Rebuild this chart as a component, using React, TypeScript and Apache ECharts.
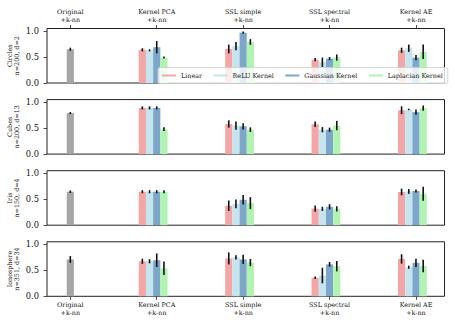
import React, { useEffect, useRef } from "react";
import * as echarts from "echarts";

const methods = ["Original\n+k-nn", "Kernel PCA\n+k-nn", "SSL simple\n+k-nn", "SSL spectral\n+k-nn", "Kernel AE\n+k-nn"];
const kernels = ["Linear", "ReLU Kernel", "Gaussian Kernel", "Laplacian Kernel"];
const kernelColors = ["#F4A6A6", "#C5E4EE", "#7DA7CA", "#B1F3B1"];
const originalColor = "#A6A6A6";
const datasets = ["Circles\nn=200, d=2", "Cubes\nn=200, d=13", "Iris\nn=150, d=4", "Ionosphere\nn=351, d=34"];
const yTicks = [0, 0.5, 1.0];

// Original +k-nn per dataset
const originalMean = [0.65, 0.79, 0.645, 0.71];
const originalErr = [0.03, 0.02, 0.025, 0.065];

// per dataset: [kernel][method: Kernel PCA, SSL simple, SSL spectral, Kernel AE]
const circlesMean = [
  [0.64, 0.655, 0.45, 0.63],
  [0.63, 0.71, 0.40, 0.67],
  [0.69, 0.97, 0.47, 0.49],
  [0.49, 0.79, 0.49, 0.60],
];
const circlesErr = [
  [0.03, 0.085, 0.03, 0.05],
  [0.02, 0.08, 0.09, 0.07],
  [0.12, 0.02, 0.03, 0.05],
  [0.02, 0.055, 0.06, 0.14],
];
const cubesMean = [
  [0.89, 0.58, 0.575, 0.845],
  [0.89, 0.55, 0.47, 0.86],
  [0.89, 0.535, 0.47, 0.81],
  [0.48, 0.47, 0.55, 0.885],
];
const cubesErr = [
  [0.03, 0.07, 0.055, 0.075],
  [0.03, 0.08, 0.05, 0.015],
  [0.03, 0.06, 0.04, 0.05],
  [0.035, 0.045, 0.09, 0.05],
];
const irisMean = [
  [0.645, 0.375, 0.32, 0.64],
  [0.645, 0.41, 0.315, 0.65],
  [0.645, 0.49, 0.355, 0.66],
  [0.645, 0.425, 0.315, 0.605],
];
const irisErr = [
  [0.03, 0.1, 0.06, 0.065],
  [0.03, 0.085, 0.04, 0.045],
  [0.03, 0.09, 0.05, 0.03],
  [0.03, 0.115, 0.05, 0.135],
];
const ionoMean = [
  [0.675, 0.73, 0.357, 0.72],
  [0.675, 0.75, 0.40, 0.56],
  [0.695, 0.71, 0.615, 0.645],
  [0.54, 0.65, 0.58, 0.585],
];
const ionoErr = [
  [0.05, 0.115, 0.025, 0.09],
  [0.04, 0.04, 0.15, 0.03],
  [0.13, 0.09, 0.045, 0.08],
  [0.13, 0.07, 0.1, 0.12],
];

const allMeans = [circlesMean, cubesMean, irisMean, ionoMean];
const allErrs = [circlesErr, cubesErr, irisErr, ionoErr];

const FONT = "DejaVu Serif";
const BAR_W = 1 / 12;
const TEXT = "#111";

export default function App() {
  const ref = useRef<HTMLDivElement>(null);
  useEffect(() => {
    if (!ref.current) return;
    const chart = echarts.init(ref.current, undefined, { renderer: "svg" });

    const makeRender = (color: string) => (params: any, api: any) => {
      const x = api.value(0);
      const y = api.value(1);
      const e = api.value(2);
      const p0 = api.coord([x - BAR_W / 2, y]);
      const p1 = api.coord([x + BAR_W / 2, 0]);
      const t = api.coord([x, y + e]);
      const b = api.coord([x, y - e]);
      return {
        type: "group",
        children: [
          { type: "rect", shape: { x: p0[0], y: p0[1], width: p1[0] - p0[0], height: p1[1] - p0[1] }, style: { fill: color } },
          { type: "line", shape: { x1: t[0], y1: t[1], x2: b[0], y2: b[1] }, style: { stroke: "#111", lineWidth: 1.6 } },
        ],
      };
    };

    const grids: any[] = [];
    const xAxes: any[] = [];
    const yAxes: any[] = [];
    const series: any[] = [];
    const tickVals = methods.map((_, i) => i);

    datasets.forEach((name, i) => {
      const showX = i === 0 || i === datasets.length - 1;
      grids.push({
        left: 47, right: 10.5, top: 28.5 + i * 71.1, height: 54.5,
        containLabel: false, outerBoundsMode: "none",
        show: true, borderColor: "#222", borderWidth: 1, backgroundColor: "transparent",
      });
      xAxes.push({
        type: "value", gridIndex: i, min: -0.27, max: 4.33,
        position: i === 0 ? "top" : "bottom",
        splitLine: { show: false },
        axisLine: { show: false, onZero: false },
        axisTick: { show: showX, customValues: tickVals, length: 3.5, lineStyle: { color: "#222", width: 0.8 } },
        axisLabel: {
          show: showX, customValues: tickVals,
          formatter: (v: number) => methods[Math.round(v)],
          fontSize: 6.4, fontFamily: FONT, color: TEXT, lineHeight: 7.5, margin: 5,
        },
      });
      yAxes.push({
        type: "value", gridIndex: i, min: 0, max: 1.05,
        position: "left",
        name, nameLocation: "middle", nameGap: 27, nameRotate: 90, nameMoveOverlap: false,
        nameTextStyle: { fontSize: 6.4, fontFamily: FONT, color: TEXT, lineHeight: 7 },
        splitLine: { show: false },
        axisLine: { show: false, onZero: false },
        axisTick: { show: true, customValues: yTicks, length: 3.5, lineStyle: { color: "#222", width: 0.8 } },
        axisLabel: {
          customValues: yTicks, formatter: (v: number) => v.toFixed(1),
          fontSize: 8.4, fontFamily: FONT, color: TEXT, margin: 8,
        },
      });
      series.push({
        type: "custom", name: "Original", xAxisIndex: i, yAxisIndex: i,
        itemStyle: { color: originalColor },
        renderItem: makeRender(originalColor),
        encode: { x: 0, y: 1 },
        data: [[0, originalMean[i], originalErr[i]]],
      });
      kernels.forEach((k, ki) => {
        series.push({
          type: "custom", name: k, xAxisIndex: i, yAxisIndex: i,
          itemStyle: { color: kernelColors[ki] },
          renderItem: makeRender(kernelColors[ki]),
          encode: { x: 0, y: 1 },
          data: allMeans[i][ki].map((m, mi) => [mi + 1 + (ki - 2) * BAR_W, m, allErrs[i][ki][mi]]),
        });
      });
    });

    chart.setOption({
      animation: false,
      backgroundColor: "#fff",
      grid: grids,
      xAxis: xAxes,
      yAxis: yAxes,
      legend: {
        data: kernels,
        left: 158, top: 67.5,
        icon: "rect", itemWidth: 14, itemHeight: 2, itemGap: 11.5,
        padding: [5, 5, 5, 4],
        selectedMode: false,
        backgroundColor: "rgba(255,255,255,0.8)",
        borderColor: "#ccc", borderWidth: 0.8, borderRadius: 2,
        textStyle: { fontSize: 6.4, fontFamily: FONT, color: TEXT },
      },
      series,
    });
    return () => chart.dispose();
  }, []);
  return <div ref={ref} style={{ position: "fixed", left: 0, top: 0, width: 455, height: 325 }} />;
}
